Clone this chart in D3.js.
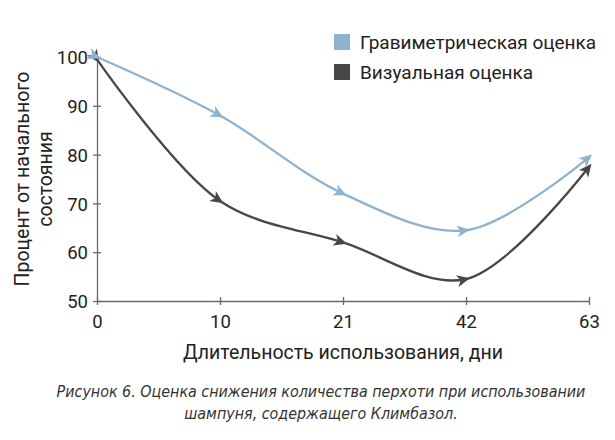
<!DOCTYPE html>
<html>
<head>
<meta charset="utf-8">
<script src="https://cdn.jsdelivr.net/npm/d3@7"></script>
<style>
  body { margin: 0; background: #fff; }
  text { font-family: Roboto, "Noto Sans", sans-serif; fill: #222; }
  .caption { font-family: "Liberation Sans Narrow", "DejaVu Sans Condensed", sans-serif; font-style: italic; fill: #333; }
</style>
</head>
<body>
<div id="chart"></div>
<script>
const days = ["0", "10", "21", "42", "63"];
const gravValues = [100, 88, 72, 64.5, 79.5];
const visValues = [99.5, 70.5, 62, 54.5, 77.5];
const yTicks = [50, 60, 70, 80, 90, 100];
const seriesNames = ["Гравиметрическая оценка", "Визуальная оценка"];
const seriesColors = ["#8fb3cf", "#474747"];

const width = 615, height = 440;
const margin = { top: 57, right: 26, bottom: 139, left: 97 };

const svg = d3.select("#chart").append("svg")
    .attr("width", width)
    .attr("height", height);

const x = d3.scalePoint()
    .domain(days)
    .range([margin.left, width - margin.right]);

const y = d3.scaleLinear()
    .domain([50, 100])
    .range([height - margin.bottom, margin.top]);

// arrow markers
const defs = svg.append("defs");
seriesColors.forEach((c, i) => {
  defs.append("marker")
      .attr("id", "arrow" + i)
      .attr("viewBox", "-13 -7 16 14")
      .attr("refX", -2)
      .attr("refY", 0)
      .attr("markerWidth", 16)
      .attr("markerHeight", 14)
      .attr("markerUnits", "userSpaceOnUse")
      .attr("orient", "auto")
    .append("path")
      .attr("d", "M2,0 L-11,-6 L-7.5,0 L-11,6 Z")
      .attr("fill", c);
});

// axes
const xAxis = svg.append("g")
    .attr("transform", `translate(0,${y(50)})`)
    .call(d3.axisBottom(x).tickSizeInner(4).tickSizeOuter(0).tickPadding(7));
xAxis.selectAll(".tick line").attr("y1", -4);

const yAxis = svg.append("g")
    .attr("transform", `translate(${margin.left},0)`)
    .call(d3.axisLeft(y).tickValues(yTicks).tickSizeInner(4).tickSizeOuter(0).tickPadding(5));
yAxis.selectAll(".tick line").attr("x1", 4);

[xAxis, yAxis].forEach(a => {
  a.select(".domain").attr("stroke", "#6a6a6a").attr("stroke-width", 1.3);
  a.selectAll(".tick line").attr("stroke", "#6a6a6a").attr("stroke-width", 1.3);
  a.selectAll(".tick text").attr("font-size", 18.5).attr("fill", "#222")
    .style("font-family", "Roboto, sans-serif");
});
xAxis.selectAll(".tick text").attr("dy", "0.85em");
yAxis.selectAll(".tick text").attr("dy", "0.36em");

// lines (dark first so the light one sits on top)
const line = d3.line()
    .x((d, i) => x(days[i]))
    .y(d => y(d))
    .curve(d3.curveCatmullRom.alpha(0.5));

[[visValues, 1], [gravValues, 0]].forEach(([vals, i]) => {
  svg.append("path")
      .datum(vals)
      .attr("d", line)
      .attr("fill", "none")
      .attr("stroke", seriesColors[i])
      .attr("stroke-width", 2.3)
      .attr("marker-start", `url(#arrow${i})`)
      .attr("marker-mid", `url(#arrow${i})`)
      .attr("marker-end", `url(#arrow${i})`);
});

// axis titles
svg.append("text")
    .attr("x", (x("0") + x("63")) / 2)
    .attr("y", 359)
    .attr("text-anchor", "middle")
    .attr("font-size", 19.5)
    .text("Длительность использования, дни");

const yTitle = svg.append("text")
    .attr("transform", `translate(29,${(y(50) + y(100)) / 2}) rotate(-90)`)
    .attr("text-anchor", "middle")
    .attr("font-size", 19.5);
yTitle.append("tspan").attr("x", 0).attr("dy", 0).text("Процент от начального");
yTitle.append("tspan").attr("x", 0).attr("dy", "1.2em").text("состояния");

// legend
const legend = svg.append("g").attr("transform", "translate(334,34)");
seriesNames.forEach((name, i) => {
  const g = legend.append("g").attr("transform", `translate(0,${i * 30})`);
  g.append("rect").attr("width", 16).attr("height", 16).attr("fill", seriesColors[i]);
  g.append("text").attr("x", 26).attr("y", 8).attr("dy", "0.36em")
      .attr("font-size", 19).text(name);
});

// caption
const caption = svg.append("text")
    .attr("class", "caption")
    .attr("text-anchor", "middle")
    .attr("font-size", 15.9);
caption.append("tspan").attr("x", 321).attr("y", 397)
    .text("Рисунок 6. Оценка снижения количества перхоти при использовании");
caption.append("tspan").attr("x", 321).attr("y", 419)
    .text("шампуня, содержащего Климбазол.");
</script>
</body>
</html>
